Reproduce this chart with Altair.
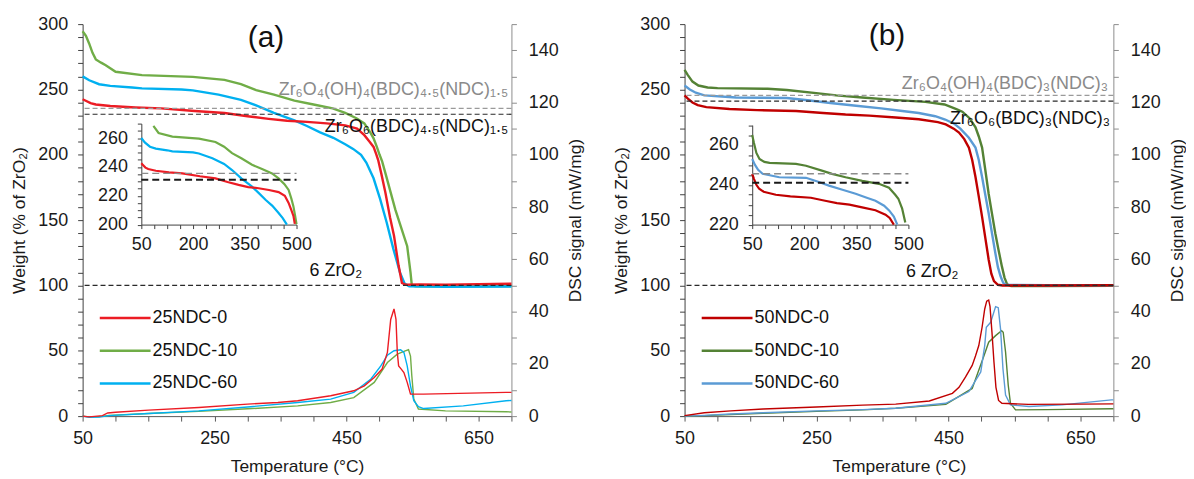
import altair as alt
import pandas as pd

FONT = "Liberation Sans"

# ---------------- Panel (a): TGA (weight, % of ZrO2) ----------------
a_names = ["25NDC-0", "25NDC-10", "25NDC-60"]
a_colors = ["#ec1c24", "#70ad47", "#00b0f0"]

a_tga_red_T = [50, 54, 62, 70, 92, 130, 169, 220, 265, 300, 332, 360, 390, 420, 448, 466, 477, 485, 491, 495, 498, 503, 509, 516, 522, 529, 534, 540, 560, 600, 650, 700]
a_tga_red_w = [242.5, 241.5, 239.5, 238.5, 237.3, 236.2, 235.5, 233.5, 232, 229.5, 227.5, 226, 225.2, 224, 222.5, 220, 215, 210, 206, 200.5, 196, 185, 171, 152, 138, 115, 102, 100.5, 100.8, 100.5, 101, 101.3]
a_tga_green_T = [50, 55, 60, 65, 70, 78, 85, 100, 140, 217, 265, 290, 313, 340, 371, 400, 429, 448, 465, 477, 485, 491, 496, 500, 504, 510, 517, 524, 532, 542, 547, 549, 555, 600, 700]
a_tga_green_w = [294.5, 291, 285, 278, 273, 270.5, 268.5, 263.5, 261, 259.6, 257.3, 254, 249.5, 246, 241.5, 238.5, 235.5, 232, 228, 224, 218, 212.6, 206, 200.2, 195, 184, 171, 158, 145.6, 130, 110, 100, 99.3, 99.3, 99.5]
a_tga_blue_T = [50, 60, 75, 92, 125, 140, 200, 217, 256, 290, 313, 340, 371, 390, 410, 430, 448, 460, 472, 480, 491, 501, 511, 521, 531, 538, 545, 600, 700]
a_tga_blue_w = [260, 257, 254, 252.7, 251.5, 250.8, 250, 249.3, 246, 242, 237.8, 232, 226.3, 222, 217.2, 213, 208, 204.5, 200, 194, 182, 166, 148, 128, 110, 101.5, 99.3, 99, 99.2]

# ---------------- Panel (a): DSC (mW/mg) ----------------
a_dsc_red_T = [50, 60, 80, 88, 100, 150, 226, 300, 346, 376, 426, 461, 477, 492, 504, 512, 517, 522, 525, 527, 529, 533, 537, 542, 547, 567, 620, 692, 700]
a_dsc_red_v = [0, -0.3, 0.2, 1.2, 1.5, 2.3, 3.3, 4.6, 5.2, 5.9, 7.8, 9.7, 11.6, 14.8, 18, 24.4, 37, 41, 37, 24.4, 19.2, 18, 16.7, 12.9, 8.4, 8.4, 8.7, 9.1, 9.1]
a_dsc_green_T = [50, 60, 75, 90, 150, 226, 300, 376, 426, 461, 492, 512, 527, 539, 544, 547, 549, 552, 559, 600, 692, 700]
a_dsc_green_v = [0, -0.3, -0.2, 0.3, 1.0, 1.8, 2.8, 3.9, 5.2, 7.1, 12.9, 20.5, 23.7, 25, 25.4, 23, 15.4, 6.5, 2.7, 2.0, 1.65, 1.6]
a_dsc_blue_T = [50, 60, 75, 90, 150, 226, 300, 376, 426, 461, 487, 502, 512, 522, 532, 537, 542, 547, 552, 559, 567, 627, 692, 700]
a_dsc_blue_v = [0, -0.5, -0.4, 0.2, 1.0, 2.0, 3.5, 5.2, 6.5, 9.1, 14.2, 19.2, 23.3, 25, 25.4, 24.4, 19.2, 11.6, 5.9, 3.6, 2.9, 3.9, 5.9, 6.0]

# ---------------- Panel (b): TGA ----------------
b_names = ["50NDC-0", "50NDC-10", "50NDC-60"]
b_colors = ["#c00000", "#548235", "#5b9bd5"]

b_tga_red_T = [50, 55, 62, 70, 83, 118, 160, 219, 260, 294, 330, 370, 405, 434, 446, 458, 466, 474, 481, 486, 491, 496, 501, 506, 511, 515, 519, 525, 532, 600, 700]
b_tga_red_w = [245.5, 243, 240, 238, 236.5, 235, 234.2, 233.5, 232, 230.8, 230, 228.5, 227.2, 225, 223.3, 220, 217, 212, 205.5, 196, 183, 168, 152.5, 136, 119.7, 109, 103.3, 100.5, 100, 100, 100.2]
b_tga_green_T = [50, 55, 62, 71, 85, 100, 176, 205, 253, 280, 319, 367, 415, 444, 462, 471, 482, 491, 496, 501, 506, 511, 516, 521, 526, 531, 535, 539, 545, 600, 700]
b_tga_green_w = [265, 261, 256, 253, 251.5, 251, 250.5, 249.6, 247, 245.5, 243.8, 242, 240.5, 238.5, 235, 233, 228, 221, 214, 205.5, 188, 170, 155, 140, 127, 114.6, 106, 100.8, 99.5, 99.5, 99.8]
b_tga_blue_T = [50, 58, 67, 80, 128, 205, 240, 271, 310, 348, 380, 405, 430, 445, 458, 468, 481, 491, 496, 501, 506, 511, 516, 521, 525, 529, 533, 537, 600, 700]
b_tga_blue_w = [253, 250, 247.5, 245.5, 243.8, 243.5, 241.5, 239.6, 237.5, 235.5, 233.5, 232, 229.5, 227, 224, 220, 213, 205.5, 196, 183, 169, 155, 140, 125, 114, 107, 102, 100.5, 100.2, 100.2]

# ---------------- Panel (b): DSC ----------------
b_dsc_red_T = [50, 80, 120, 169, 250, 320, 370, 421, 456, 466, 476, 486, 491, 496, 501, 505, 508, 511, 513, 516, 519, 522, 526, 531, 571, 650, 700]
b_dsc_red_v = [0.2, 1.3, 2.0, 2.7, 3.5, 4.2, 4.6, 5.8, 8.7, 11, 15, 19.4, 23, 27, 34, 41, 44, 44.4, 42, 32, 20.7, 11, 6, 4.9, 4.5, 4.6, 4.7]
b_dsc_green_T = [50, 80, 120, 169, 250, 320, 370, 446, 486, 504, 511, 521.5, 530.6, 533, 536.6, 540.6, 544, 551.7, 600, 697, 700]
b_dsc_green_v = [0, 0.2, 0.6, 1.1, 1.8, 2.4, 3.0, 4.5, 10.6, 23.2, 28.3, 30.8, 32.7, 32.1, 24.5, 11.9, 4.9, 2.4, 2.5, 2.8, 2.8]
b_dsc_blue_T = [50, 80, 120, 169, 250, 320, 370, 446, 481, 499, 505, 507.4, 514, 521.5, 525.5, 529, 532.6, 536.6, 544, 572, 622, 697, 700]
b_dsc_blue_v = [0, 0.3, 0.8, 1.3, 2.0, 2.5, 3.0, 4.9, 9.4, 16.9, 27, 34, 35.9, 41.9, 41.5, 33.3, 18.2, 8.1, 4.3, 3.7, 4.3, 6.2, 6.2]

# reference levels (weight %) and labels
a_levels = {"hydroxylated": 235.5, "dehydroxylated": 231.0, "oxide": 100.0}
b_levels = {"hydroxylated": 245.5, "dehydroxylated": 241.0, "oxide": 100.0}
a_label_hyd = "Zr₆O₄(OH)₄(BDC)₄.₅(NDC)₁.₅"
a_label_dehyd = "Zr₆O₆(BDC)₄.₅(NDC)₁.₅"
b_label_hyd = "Zr₆O₄(OH)₄(BDC)₃(NDC)₃"
b_label_dehyd = "Zr₆O₆(BDC)₃(NDC)₃"
oxide_label = "6 ZrO₂"

W, H = 431, 394


def df(T, v, col):
    return pd.DataFrame({"T": T, col: v})


def build_panel(tag, tga, dsc, names, colors, levels, lab_hyd, lab_dehyd, pos, inset):
    xs = alt.Scale(domain=[50, 700], nice=False, zero=False)
    ys = alt.Scale(domain=[0, 300], nice=False, zero=False)
    ds = alt.Scale(domain=[0, 150], nice=False, zero=False)

    ax_x = alt.Axis(values=list(range(50, 701, 50)),
                    labelExpr="(datum.value - 50) % 200 == 0 ? datum.label : ''",
                    title="Temperature (°C)", titleX=W / 2, titleY=51, titleBaseline="middle",
                    tickSize=5, labelPadding=9, labelFlush=False, labelOverlap=False,
                    domainColor="#595959", tickColor="#595959", grid=False)
    ax_y = alt.Axis(values=list(range(0, 301, 10)),
                    labelExpr="datum.value % 50 == 0 ? datum.label : ''",
                    title="Weight (% of ZrO₂)", titleAngle=270, titleX=-63, titleY=H / 2,
                    titleBaseline="middle", titleAlign="center",
                    tickSize=5, labelPadding=10, labelOverlap=False, labelFlush=False,
                    domainColor="#404040", tickColor="#404040", grid=False)
    ax_d = alt.Axis(orient="right", values=list(range(0, 151, 10)),
                    labelExpr="datum.value % 20 == 0 && datum.value < 150 ? datum.label : ''",
                    title="DSC signal (mW/mg)", titleAngle=270, titleX=64, titleY=H / 2,
                    titleBaseline="middle", titleAlign="center",
                    tickSize=5, labelPadding=12, labelOverlap=False, labelFlush=False,
                    domainColor="#8c8c8c", tickColor="#8c8c8c", grid=False)

    def X(f="T"):
        return alt.X(f + ":Q", scale=xs, axis=ax_x)

    def Y(f="w"):
        return alt.Y(f + ":Q", scale=ys, axis=ax_y)

    main = []
    # TGA curves (green, blue, then red on top)
    for i in [1, 2, 0]:
        main.append(alt.Chart(tga[i]).mark_line(color=colors[i], strokeWidth=2.4).encode(x=X(), y=Y()))
    # dashed reference lines
    main.append(alt.Chart(pd.DataFrame({"w": [levels["hydroxylated"]]}))
                .mark_rule(color="#9a9a9a", strokeDash=[5, 3], strokeWidth=1.2).encode(y=Y()))
    main.append(alt.Chart(pd.DataFrame({"w": [levels["dehydroxylated"], levels["oxide"]]}))
                .mark_rule(color="#2a2a2a", strokeDash=[5, 3], strokeWidth=1.2).encode(y=Y()))
    # texts
    main.append(alt.Chart(pd.DataFrame({"T": [pos["hyd"][0]], "w": [pos["hyd"][1]], "t": [lab_hyd]}))
                .mark_text(align="right", baseline="middle", fontSize=18, font=FONT, color="#8a8a8a")
                .encode(x=X(), y=Y(), text="t:N"))
    main.append(alt.Chart(pd.DataFrame({"T": [pos["dehyd"][0]], "w": [pos["dehyd"][1]], "t": [lab_dehyd]}))
                .mark_text(align="right", baseline="middle", fontSize=18, font=FONT, color="#111111")
                .encode(x=X(), y=Y(), text="t:N"))
    main.append(alt.Chart(pd.DataFrame({"T": [pos["oxide"][0]], "w": [pos["oxide"][1]], "t": [oxide_label]}))
                .mark_text(align="left", baseline="middle", fontSize=18, font=FONT, color="#111111")
                .encode(x=X(), y=Y(), text="t:N"))
    main.append(alt.Chart(pd.DataFrame({"T": [pos["tag"][0]], "w": [pos["tag"][1]], "t": [tag]}))
                .mark_text(align="center", baseline="middle", fontSize=30, font=FONT, color="#111111")
                .encode(x=X(), y=Y(), text="t:N"))
    # legend (one row per series, each with its own colour)
    for i, lev in zip(range(3), [75, 50, 25]):
        row = pd.DataFrame({"name": [names[i]], "T": [76], "T2": [153], "w": [lev]})
        main.append(alt.Chart(row).mark_rule(strokeWidth=2.5, color=colors[i])
                    .encode(x=X(), x2="T2:Q", y=Y()))
        main.append(alt.Chart(row).mark_text(align="left", baseline="middle", fontSize=18, font=FONT,
                                             color="#111111", dx=2)
                    .encode(x=alt.X("T2:Q", scale=xs, axis=ax_x), y=Y(), text="name:N"))
    main_layer = alt.layer(*main)

    # DSC curves on the secondary axis
    xs_d = alt.Scale(domain=[50, 700], nice=False, zero=False)
    dl = []
    for i in [1, 2, 0]:
        dl.append(alt.Chart(dsc[i]).mark_line(color=colors[i], strokeWidth=1.4)
                  .encode(x=alt.X("T:Q", scale=xs_d, axis=None),
                          y=alt.Y("d:Q", scale=ds, axis=ax_d)))
    dsc_layer = alt.layer(*dl)

    # inset
    ymin = inset["ymin"]
    ixs = alt.Scale(domain=[50, 500], range=inset["xr"], nice=False, zero=False)
    iys = alt.Scale(domain=[ymin, 270], range=inset["yr"], nice=False, zero=False)
    iax_x = alt.Axis(orient="bottom", offset=-(H - inset["yr"][0]),
                     values=[50 + 37.5 * k for k in range(13)],
                     labelExpr="(datum.value - 50) % 150 == 0 ? datum.label : ''",
                     title=None, tickSize=4, labelPadding=7, labelFlush=False, labelOverlap=False,
                     domainColor="#404040", tickColor="#404040", grid=False)
    iax_y = alt.Axis(orient="left", offset=-inset["xr"][0],
                     values=list(range(ymin, 271, 5)),
                     labelExpr=f"(datum.value - {ymin}) % 20 == 0 ? datum.label : ''",
                     title=None, tickSize=4, labelPadding=10, labelFlush=False, labelOverlap=False,
                     domainColor="#404040", tickColor="#404040", grid=False)
    il = []
    for i in [1, 2, 0]:
        il.append(alt.Chart(tga[i]).transform_filter(
            f"datum.T <= 500 && datum.w >= {ymin} && datum.w <= 270")
            .mark_line(color=colors[i], strokeWidth=2.2)
            .encode(x=alt.X("T:Q", scale=ixs, axis=iax_x), y=alt.Y("w:Q", scale=iys, axis=iax_y)))
    irule = pd.DataFrame({"T": [50, 50], "T2": [500, 500],
                          "w": [levels["hydroxylated"], levels["dehydroxylated"]],
                          "k": ["h", "d"]})
    il.append(alt.Chart(irule).transform_filter("datum.k == 'h'")
              .mark_rule(color="#8c8c8c", strokeDash=[7, 4], strokeWidth=1.5)
              .encode(x=alt.X("T:Q", scale=ixs, axis=iax_x), x2="T2:Q",
                      y=alt.Y("w:Q", scale=iys, axis=iax_y)))
    il.append(alt.Chart(irule).transform_filter("datum.k == 'd'")
              .mark_rule(color="#1a1a1a", strokeDash=[7, 4], strokeWidth=2)
              .encode(x=alt.X("T:Q", scale=ixs, axis=iax_x), x2="T2:Q",
                      y=alt.Y("w:Q", scale=iys, axis=iax_y)))
    inset_layer = alt.layer(*il)

    return alt.layer(main_layer, dsc_layer, inset_layer).resolve_scale(
        x="independent", y="independent").properties(width=W, height=H)


a_tga = [df(a_tga_red_T, a_tga_red_w, "w"), df(a_tga_green_T, a_tga_green_w, "w"), df(a_tga_blue_T, a_tga_blue_w, "w")]
a_dsc = [df(a_dsc_red_T, a_dsc_red_v, "d"), df(a_dsc_green_T, a_dsc_green_v, "d"), df(a_dsc_blue_T, a_dsc_blue_v, "d")]
b_tga = [df(b_tga_red_T, b_tga_red_w, "w"), df(b_tga_green_T, b_tga_green_w, "w"), df(b_tga_blue_T, b_tga_blue_w, "w")]
b_dsc = [df(b_dsc_red_T, b_dsc_red_v, "d"), df(b_dsc_green_T, b_dsc_green_v, "d"), df(b_dsc_blue_T, b_dsc_blue_v, "d")]

pa = build_panel("(a)", a_tga, a_dsc, a_names, a_colors, a_levels, a_label_hyd, a_label_dehyd,
                 {"hyd": (695, 249.5), "dehyd": (695, 221.5), "oxide": (394, 111), "tag": (328, 289.7)},
                 {"ymin": 200, "xr": [59, 215], "yr": [201.5, 100]})
pb = build_panel("(b)", b_tga, b_dsc, b_names, b_colors, b_levels, b_label_hyd, b_label_dehyd,
                 {"hyd": (692, 254.5), "dehyd": (695, 227.4), "oxide": (385.5, 110.6), "tag": (357, 291)},
                 {"ymin": 220, "xr": [68, 225], "yr": [201.5, 101.5]})

chart = alt.hconcat(pa, pb, spacing=174, bounds="flush").properties(
    padding={"left": 3, "top": 6, "right": 0, "bottom": 0}
).configure_view(stroke=None).configure_axis(
    labelFont=FONT, titleFont=FONT, labelFontSize=18, titleFontSize=17.5,
    labelColor="#1a1a1a", titleColor="#1a1a1a", titleFontWeight="normal",
    domainWidth=1, tickWidth=1
).configure_text(font=FONT)

chart.save("out.html", embed_options={"renderer": "svg", "actions": False})
